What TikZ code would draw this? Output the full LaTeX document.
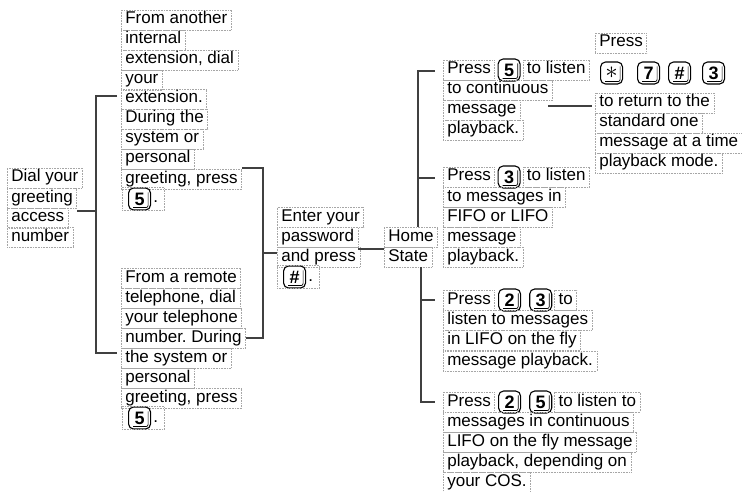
\documentclass[tikz,border=0pt]{standalone}
\usepackage{fontspec}
\setmainfont{Liberation Sans}
\usetikzlibrary{positioning,fit}
\frenchspacing
\newcommand\fs{\fontsize{17}{20}\selectfont}
\newcommand\txtline[4]{\node[ln] (#1) at (#2,#3) {\strut #4};}
\newcommand\keyfx[1]{\draw[line width=0.7pt, rounded corners=2pt] ([xshift=-3pt,yshift=-5pt]#1.north east) -- ([xshift=-3pt,yshift=3pt]#1.south east) -- ([xshift=5pt,yshift=3pt]#1.south west);}
\begin{document}
\frenchspacing
\begin{tikzpicture}[x=1pt,y=-1pt,
  ln/.style={draw=gray!70, densely dotted, line width=0.6pt, anchor=west, inner xsep=4pt, inner ysep=0pt, minimum height=20pt, text=black, font=\fs},
  kb/.style={draw=black, solid, line width=1.1pt, rounded corners=5pt, minimum width=22pt, minimum height=22pt, inner sep=0pt, font=\fontsize{18}{20}\selectfont\bfseries, anchor=west, fill=white},
  dotn/.style={anchor=west, inner sep=0pt, font=\fs},
  fitb/.style={draw=gray!70, densely dotted, line width=0.6pt, inner xsep=6pt, inner ysep=0pt},
  wire/.style={draw=black!75, line width=1.2pt}]
\useasboundingbox (0,0) rectangle (742,492);

% Dial block
\txtline{d1}{7}{178}{Dial your}
\txtline{d2}{7}{198}{greeting}
\txtline{d3}{7}{218}{access}
\txtline{d4}{7}{237}{number}

% column 1 top
\txtline{a1}{121}{20}{From another}
\txtline{a2}{121}{40}{internal}
\txtline{a3}{121}{60}{extension, dial}
\txtline{a4}{121}{80}{your}
\txtline{a5}{121}{99}{extension.}
\txtline{a6}{121}{119}{During the}
\txtline{a7}{121}{139}{system or}
\txtline{a8}{121}{159}{personal}
\txtline{a9}{121}{179}{greeting, press}
\node[kb] (ak) at (128,199) {5}; \keyfx{ak}
\node[dotn] (ap) at ([xshift=2pt]ak.east) {\strut.};
\node[fitb, fit=(ak)(ap)] (abox) {};

% column 1 bottom
\txtline{b1}{121}{278}{From a remote}
\txtline{b2}{121}{298}{telephone, dial}
\txtline{b3}{121}{318}{your telephone}
\txtline{b4}{121}{338}{number. During}
\txtline{b5}{121}{358}{the system or}
\txtline{b6}{121}{378}{personal}
\txtline{b7}{121}{398}{greeting, press}
\node[kb] (bk) at (128,418) {5}; \keyfx{bk}
\node[dotn] (bp) at ([xshift=2pt]bk.east) {\strut.};
\node[fitb, fit=(bk)(bp)] (bbox) {};

% Enter block
\txtline{e1}{277}{217}{Enter your}
\txtline{e2}{277}{237}{password}
\txtline{e3}{277}{257}{and press}
\node[kb] (ek) at (283,277) {\#}; \keyfx{ek}
\node[dotn] (ep) at ([xshift=2pt]ek.east) {\strut.};
\node[fitb, fit=(ek)(ep)] (ebox) {};

% Home block
\txtline{h1}{384}{237}{Home}
\txtline{h2}{384}{257}{State}

% Block P5
\txtline{p1a}{443}{70}{Press}
\node[kb, right=2.5pt of p1a] (p1k) {5}; \keyfx{p1k}
\node[ln, right=2pt of p1k] (p1b) {\strut to listen};
\txtline{p2}{443}{90}{to continuous}
\txtline{p3}{443}{110}{message}
\txtline{p4}{443}{130}{playback.}

% Block E
\txtline{s1}{595}{43}{Press}
\node[kb] (sk1) at (600,73) {\fontsize{28}{28}\selectfont\mdseries$\ast$}; \keyfx{sk1}
\node[kb] (sk2) at (637,73) {7}; \keyfx{sk2}
\node[kb] (sk3) at (668,73) {\#}; \keyfx{sk3}
\node[kb] (sk4) at (702,73) {3}; \keyfx{sk4}
\txtline{s2}{595}{103}{to return to the}
\txtline{s3}{595}{123}{standard one}
\txtline{s4}{595}{143}{message at a time}
\txtline{s5}{595}{163}{playback mode.}

% Block P3
\txtline{q1a}{443}{177}{Press}
\node[kb, right=2.5pt of q1a] (q1k) {3}; \keyfx{q1k}
\node[ln, right=2pt of q1k] (q1b) {\strut to listen};
\txtline{q2}{443}{197}{to messages in}
\txtline{q3}{443}{217}{FIFO or LIFO}
\txtline{q4}{443}{237}{message}
\txtline{q5}{443}{257}{playback.}

% Block P23
\txtline{r1a}{443}{300}{Press}
\node[kb, right=3pt of r1a] (r1k) {2}; \keyfx{r1k}
\node[kb, right=8pt of r1k] (r1l) {3}; \keyfx{r1l}
\node[ln, right=2pt of r1l] (r1b) {\strut to};
\txtline{r2}{443}{320}{listen to messages}
\txtline{r3}{443}{340}{in LIFO on the fly}
\txtline{r4}{443}{361}{message playback.}

% Block P25
\txtline{t1a}{443}{402}{Press}
\node[kb, right=3pt of t1a] (t1k) {2}; \keyfx{t1k}
\node[kb, right=8pt of t1k] (t1l) {5}; \keyfx{t1l}
\node[ln, right=2pt of t1l] (t1b) {\strut to listen to};
\txtline{t2}{443}{422}{messages in continuous}
\txtline{t3}{443}{442}{LIFO on the fly message}
\txtline{t4}{443}{462}{playback, depending on}
\txtline{t5}{443}{482}{your COS.}

% connectors
\coordinate (lm) at (96,211);
\coordinate (lt) at (96,96);
\coordinate (lb) at (96,353);
\draw[wire] (d2.east |- lm) -- (lm);
\draw[wire] ([xshift=-4pt]a5.west |- lt) -- (lt) -- (lb) -- ([xshift=-4pt]b5.west |- lb);

\coordinate (rt) at (263,168);
\coordinate (rb) at (263,338);
\coordinate (rm) at (263,253);
\draw[wire] (a9.east |- rt) -- (rt) -- (rb) -- (b4.east |- rb);
\draw[wire] (rm) -- (e3.west |- rm);

\coordinate (hj) at (370,249);
\draw[wire] (e2.east |- hj) -- (h2.west |- hj);

\coordinate (ut) at (418,71);
\coordinate (um) at (418,178);
\draw[wire] (h1.north -| ut) -- (ut) -- ([xshift=-8pt]p1a.west |- ut);
\draw[wire] (um) -- ([xshift=-8pt]q1a.west |- um);

\coordinate (vb) at (421,402);
\coordinate (vm) at (421,300);
\draw[wire] (h2.south -| vb) -- (vb) -- ([xshift=-8pt]t1a.west |- vb);
\draw[wire] (vm) -- ([xshift=-8pt]r1a.west |- vm);

\coordinate (cj) at (548,106);
\draw[wire] (cj) -- ([xshift=-3pt]s2.west |- cj);
\end{tikzpicture}
\end{document}
